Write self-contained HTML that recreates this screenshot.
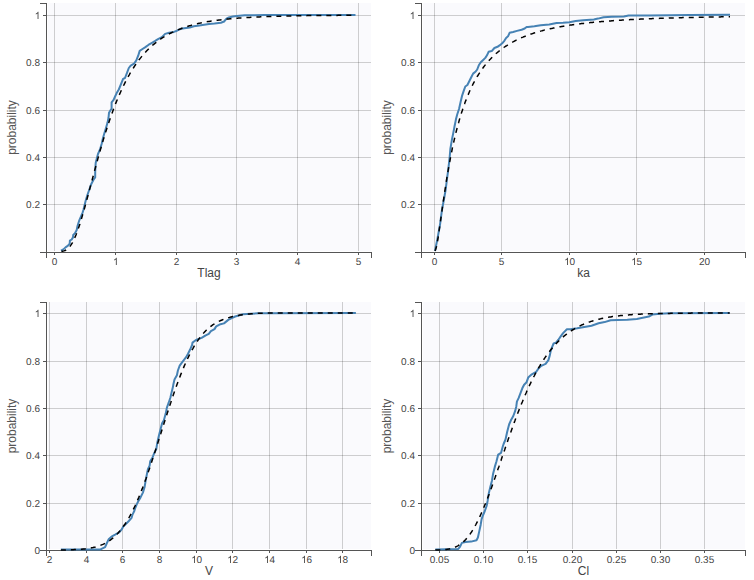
<!DOCTYPE html>
<html><head><meta charset="utf-8"><style>
html,body{margin:0;padding:0;background:#fff;width:754px;height:580px;overflow:hidden}
svg text{font-family:"Liberation Sans",sans-serif}
</style></head><body>
<svg width="754" height="580" viewBox="0 0 754 580" style="position:absolute;left:0;top:0">
<g><rect x="48" y="3" width="323" height="248" fill="#fafafd"/><path d="M54.5,3V251M115.5,3V251M176.5,3V251M236.5,3V251M297.5,3V251M358.5,3V251" stroke="#000" stroke-opacity="0.18" stroke-width="1" fill="none" shape-rendering="crispEdges"/><path d="M47,15.5H371M47,62.5H371M47,110.5H371M47,157.5H371M47,204.5H371" stroke="#000" stroke-opacity="0.18" stroke-width="1" fill="none" shape-rendering="crispEdges"/><path d="M40,3.5H46.5V252.5H40M46.5,258V252.5H371.5V258M54.5,252V255M115.5,252V255M176.5,252V255M236.5,252V255M297.5,252V255M358.5,252V255M43,15.5H46M43,62.5H46M43,110.5H46M43,157.5H46M43,204.5H46" stroke="#555" stroke-width="1" fill="none" shape-rendering="crispEdges"/><path d="M61.0,250.7L63.4,249.4L65.5,247.4L68.0,245.7L69.7,243.7L69.9,240.6L71.7,239.5L73.0,237.4L73.2,235.0L75.0,233.3L76.7,230.0L77.5,226.0L79.3,220.3L82.4,213.1L83.4,210.0L85.6,201.0L87.3,195.4L89.6,188.7L91.2,184.2L93.5,179.7L95.2,177.5L95.2,171.9L95.7,162.9L96.8,158.4L98.0,154.0L100.0,149.5L101.7,143.8L102.8,138.7L104.3,133.5L105.9,128.3L107.4,123.1L108.5,118.0L109.0,112.8L110.5,110.2L111.6,108.6L111.6,102.4L113.6,99.8L115.2,96.2L116.7,93.1L118.8,89.5L121.2,83.6L123.1,78.9L125.0,78.0L126.9,73.2L128.8,68.0L130.7,65.6L134.0,63.7L136.3,60.4L138.2,55.7L139.7,50.9L142.5,49.0L145.4,47.1L148.7,44.7L152.0,42.8L154.8,41.2L158.0,39.2L161.9,37.1L165.1,33.9L169.1,32.8L173.9,31.9L177.0,30.7L180.2,29.1L184.2,28.3L189.8,27.5L193.8,26.3L199.3,25.5L204.1,24.7L209.0,23.9L214.5,23.5L220.9,22.7L224.1,21.5L226.5,18.7L228.9,17.4L232.8,16.6L236.8,16.0L244.8,15.2L265.0,15.1L355.5,15.0" fill="none" stroke="#4682b4" stroke-width="2" stroke-linejoin="round"/><path d="M61.4,251.3L62.6,251.2L63.9,250.9L65.1,250.5L66.3,249.9L67.6,249.0L68.8,247.9L70.0,246.4L71.2,244.6L72.5,242.6L73.7,240.2L74.9,237.4L76.2,234.5L77.4,231.2L78.6,227.7L79.9,224.0L81.1,220.0L82.3,215.9L83.5,211.7L84.8,207.3L86.0,202.8L87.2,198.3L88.5,193.7L89.7,189.1L90.9,184.4L92.2,179.8L93.4,175.2L94.6,170.6L95.9,166.0L97.1,161.5L98.3,157.1L99.5,152.7L100.8,148.4L102.0,144.2L103.2,140.0L104.5,136.0L105.7,132.0L106.9,128.2L108.2,124.4L109.4,120.7L110.6,117.2L111.9,113.7L113.1,110.3L114.3,107.1L115.5,103.9L116.8,100.8L118.0,97.8L119.2,95.0L120.5,92.2L121.7,89.5L122.9,86.9L124.2,84.3L125.4,81.9L126.6,79.5L127.8,77.3L129.1,75.1L130.3,72.9L131.5,70.9L132.8,68.9L134.0,67.0L135.2,65.2L136.5,63.4L137.7,61.7L138.9,60.0L140.2,58.4L141.4,56.9L142.6,55.4L143.8,54.0L145.1,52.6L146.3,51.3L147.5,50.0L148.8,48.8L150.0,47.6L151.2,46.5L152.5,45.4L153.7,44.3L154.9,43.3L156.2,42.3L157.4,41.4L158.6,40.5L159.8,39.6L161.1,38.7L162.3,37.9L163.5,37.1L164.8,36.4L166.0,35.6L167.2,34.9L168.5,34.3L169.7,33.6L170.9,33.0L172.1,32.4L173.4,31.8L174.6,31.2L175.8,30.7L177.1,30.1L178.3,29.6L179.5,29.2L180.8,28.7L182.0,28.2L183.2,27.8L184.5,27.4L185.7,27.0L186.9,26.6L188.1,26.2L189.4,25.8L190.6,25.5L191.8,25.1L193.1,24.8L194.3,24.5L195.5,24.2L196.8,23.9L198.0,23.6L199.2,23.3L200.5,23.1L201.7,22.8L202.9,22.6L204.1,22.3L205.4,22.1L206.6,21.9L207.8,21.6L209.1,21.4L210.3,21.2L211.5,21.0L212.8,20.9L214.0,20.7L215.2,20.5L216.4,20.3L217.7,20.2L218.9,20.0L220.1,19.9L221.4,19.7L222.6,19.6L223.8,19.4L225.1,19.3L226.3,19.2L227.5,19.0L228.8,18.9L230.0,18.8L231.2,18.7L232.4,18.6L233.7,18.5L234.9,18.4L236.1,18.3L237.4,18.2L238.6,18.1L239.8,18.0L241.1,17.9L242.3,17.8L243.5,17.7L244.8,17.6L246.0,17.6L247.2,17.5L248.4,17.4L249.7,17.4L250.9,17.3L252.1,17.2L253.4,17.2L254.6,17.1L255.8,17.0L257.1,17.0L258.3,16.9L259.5,16.9L260.7,16.8L262.0,16.8L263.2,16.7L264.4,16.7L265.7,16.6L266.9,16.6L268.1,16.5L269.4,16.5L270.6,16.5L271.8,16.4L273.1,16.4L274.3,16.3L275.5,16.3L276.7,16.3L278.0,16.2L279.2,16.2L280.4,16.2L281.7,16.1L282.9,16.1L284.1,16.1L285.4,16.0L286.6,16.0L287.8,16.0L289.1,16.0L290.3,15.9L291.5,15.9L292.7,15.9L294.0,15.9L295.2,15.8L296.4,15.8L297.7,15.8L298.9,15.8L300.1,15.8L301.4,15.7L302.6,15.7L303.8,15.7L305.0,15.7L306.3,15.7L307.5,15.6L308.7,15.6L310.0,15.6L311.2,15.6L312.4,15.6L313.7,15.6L314.9,15.6L316.1,15.5L317.4,15.5L318.6,15.5L319.8,15.5L321.0,15.5L322.3,15.5L323.5,15.5L324.7,15.5L326.0,15.4L327.2,15.4L328.4,15.4L329.7,15.4L330.9,15.4L332.1,15.4L333.4,15.4L334.6,15.4L335.8,15.4L337.0,15.4L338.3,15.3L339.5,15.3L340.7,15.3L342.0,15.3L343.2,15.3L344.4,15.3L345.7,15.3L346.9,15.3L348.1,15.3L349.3,15.3L350.6,15.3L351.8,15.3L353.0,15.3L354.3,15.3L355.5,15.2" fill="none" stroke="#000" stroke-width="1.5" stroke-dasharray="5,5"/><g font-size="10" fill="#444" style="text-rendering:geometricPrecision"><text x="51.7192" y="265">0</text><path transform="translate(113.0192,265) scale(0.004883,-0.004883)" d="M763 0H583V1147C540 1106 483 1064 413 1023C342 982 279 951 223 930V1104C324 1151 412 1209 487 1276C562 1343 615 1409 646 1472H763Z"/><text x="173.7192" y="265">2</text><text x="233.7192" y="265">3</text><text x="294.7192" y="265">4</text><text x="355.7192" y="265">5</text><path transform="translate(34.7385,19) scale(0.004883,-0.004883)" d="M763 0H583V1147C540 1106 483 1064 413 1023C342 982 279 951 223 930V1104C324 1151 412 1209 487 1276C562 1343 615 1409 646 1472H763Z"/><text x="26.0986 31.6602 34.4385" y="66">0.8</text><text x="26.0986 31.6602 34.4385" y="114">0.6</text><text x="26.0986 31.6602 34.4385" y="161">0.4</text><text x="26.0986 31.6602 34.4385" y="208">0.2</text></g><text x="209.0" y="277" text-anchor="middle" font-size="12" fill="#444">Tlag</text><text transform="translate(15.5,127.5) rotate(-90)" text-anchor="middle" font-size="12" fill="#555">probability</text></g>
<g><rect x="423" y="3" width="322" height="248" fill="#fafafd"/><path d="M434.5,3V251M501.5,3V251M569.5,3V251M636.5,3V251M704.5,3V251" stroke="#000" stroke-opacity="0.18" stroke-width="1" fill="none" shape-rendering="crispEdges"/><path d="M422,15.5H745M422,62.5H745M422,110.5H745M422,157.5H745M422,204.5H745" stroke="#000" stroke-opacity="0.18" stroke-width="1" fill="none" shape-rendering="crispEdges"/><path d="M415,3.5H421.5V252.5H415M421.5,258V252.5H745.5V258M434.5,252V255M501.5,252V255M569.5,252V255M636.5,252V255M704.5,252V255M418,15.5H421M418,62.5H421M418,110.5H421M418,157.5H421M418,204.5H421" stroke="#555" stroke-width="1" fill="none" shape-rendering="crispEdges"/><path d="M435.0,251.0L437.6,238.0L440.0,224.8L441.9,210.3L443.7,200.7L445.6,190.0L447.0,178.9L448.3,169.3L449.7,156.9L450.4,148.6L451.8,140.3L453.2,133.4L454.5,126.5L455.9,119.6L457.2,114.5L459.1,108.7L460.7,101.5L462.2,95.3L463.8,90.7L465.3,86.5L467.4,85.0L469.5,80.8L471.5,76.7L473.1,73.6L475.7,71.5L477.2,69.5L478.8,65.3L480.8,62.2L482.9,60.2L485.3,57.9L487.0,55.3L488.6,51.8L491.7,51.1L494.4,48.0L497.5,46.8L499.9,45.2L502.2,43.3L504.5,40.6L506.1,37.9L508.0,36.3L509.6,32.8L513.1,32.0L517.0,30.9L521.6,29.7L524.7,28.5L526.6,27.0L528.0,26.9L534.4,26.3L540.7,25.3L549.2,24.5L556.6,23.1L563.0,22.8L569.4,22.3L575.7,21.0L583.2,20.2L593.8,19.4L598.0,18.6L603.6,17.3L611.9,16.7L623.9,16.4L628.6,15.5L647.7,15.5L671.6,15.2L690.0,15.0L730.0,14.8" fill="none" stroke="#4682b4" stroke-width="2" stroke-linejoin="round"/><path d="M435.0,250.9L435.7,249.3L436.5,246.5L437.2,242.8L438.0,238.5L438.7,233.7L439.4,228.6L440.2,223.4L440.9,218.2L441.7,212.9L442.4,207.6L443.1,202.4L443.9,197.4L444.6,192.4L445.4,187.6L446.1,182.8L446.8,178.3L447.6,173.8L448.3,169.5L449.0,165.4L449.8,161.4L450.5,157.5L451.3,153.7L452.0,150.1L452.7,146.5L453.5,143.2L454.2,139.9L455.0,136.7L455.7,133.6L456.4,130.7L457.2,127.8L457.9,125.0L458.7,122.4L459.4,119.8L460.1,117.3L460.9,114.8L461.6,112.5L462.4,110.2L463.1,108.0L463.8,105.9L464.6,103.8L465.3,101.8L466.1,99.9L466.8,98.0L467.5,96.1L468.3,94.4L469.0,92.7L469.7,91.0L470.5,89.4L471.2,87.8L472.0,86.3L472.7,84.8L473.4,83.3L474.2,81.9L474.9,80.6L475.7,79.3L476.4,78.0L477.1,76.7L477.9,75.5L478.6,74.3L479.4,73.2L480.1,72.0L480.8,70.9L481.6,69.9L482.3,68.8L483.1,67.8L483.8,66.8L484.5,65.9L485.3,64.9L486.0,64.0L486.8,63.1L487.5,62.3L488.2,61.4L489.0,60.6L489.7,59.8L490.5,59.0L491.2,58.2L491.9,57.5L492.7,56.7L493.4,56.0L494.1,55.3L494.9,54.6L495.6,54.0L496.4,53.3L497.1,52.7L497.8,52.1L498.6,51.5L499.3,50.9L500.1,50.3L500.8,49.7L501.5,49.1L502.3,48.6L503.0,48.1L503.8,47.5L504.5,47.0L505.2,46.5L506.0,46.0L506.7,45.6L507.5,45.1L508.2,44.6L508.9,44.2L509.7,43.7L510.4,43.3L511.2,42.9L511.9,42.5L512.6,42.1L513.4,41.7L514.1,41.3L514.8,40.9L515.6,40.5L516.3,40.1L517.1,39.8L517.8,39.4L518.5,39.1L519.3,38.7L520.0,38.4L520.8,38.1L521.5,37.7L522.2,37.4L523.0,37.1L523.7,36.8L524.5,36.5L525.2,36.2L525.9,35.9L526.7,35.6L527.4,35.4L528.2,35.1L528.9,34.8L529.6,34.6L530.4,34.3L531.1,34.0L531.9,33.8L532.6,33.6L533.3,33.3L534.1,33.1L534.8,32.8L535.6,32.6L536.3,32.4L537.0,32.2L537.8,31.9L538.5,31.7L539.2,31.5L540.0,31.3L540.7,31.1L541.5,30.9L542.2,30.7L542.9,30.5L543.7,30.3L544.4,30.1L545.2,30.0L545.9,29.8L546.6,29.6L547.4,29.4L548.1,29.2L548.9,29.1L549.6,28.9L550.3,28.7L551.1,28.6L551.8,28.4L552.6,28.3L553.3,28.1L554.0,28.0L554.8,27.8L555.5,27.7L556.3,27.5L557.0,27.4L557.7,27.2L558.5,27.1L559.2,26.9L559.9,26.8L560.7,26.7L561.4,26.5L562.2,26.4L562.9,26.3L563.6,26.2L564.4,26.0L565.1,25.9L565.9,25.8L566.6,25.7L567.3,25.6L568.1,25.5L568.8,25.3L569.6,25.2L570.3,25.1L571.0,25.0L571.8,24.9L572.5,24.8L573.3,24.7L574.0,24.6L574.7,24.5L575.5,24.4L576.2,24.3L577.0,24.2L577.7,24.1L578.4,24.0L579.2,23.9L579.9,23.8L580.7,23.7L581.4,23.6L582.1,23.5L582.9,23.5L583.6,23.4L584.3,23.3L585.1,23.2L585.8,23.1L586.6,23.0L587.3,23.0L588.0,22.9L588.8,22.8L589.5,22.7L590.3,22.6L591.0,22.6L591.7,22.5L592.5,22.4L593.2,22.3L594.0,22.3L594.7,22.2L595.4,22.1L596.2,22.1L596.9,22.0L597.7,21.9L598.4,21.9L599.1,21.8L599.9,21.7L600.6,21.7L601.4,21.6L602.1,21.5L602.8,21.5L603.6,21.4L604.3,21.4L605.1,21.3L605.8,21.2L606.5,21.2L607.3,21.1L608.0,21.1L608.7,21.0L609.5,21.0L610.2,20.9L611.0,20.9L611.7,20.8L612.4,20.7L613.2,20.7L613.9,20.6L614.7,20.6L615.4,20.5L616.1,20.5L616.9,20.4L617.6,20.4L618.4,20.3L619.1,20.3L619.8,20.3L620.6,20.2L621.3,20.2L622.1,20.1L622.8,20.1L623.5,20.0L624.3,20.0L625.0,19.9L625.8,19.9L626.5,19.9L627.2,19.8L628.0,19.8L628.7,19.7L629.4,19.7L630.2,19.6L630.9,19.6L631.7,19.6L632.4,19.5L633.1,19.5L633.9,19.5L634.6,19.4L635.4,19.4L636.1,19.3L636.8,19.3L637.6,19.3L638.3,19.2L639.1,19.2L639.8,19.2L640.5,19.1L641.3,19.1L642.0,19.1L642.8,19.0L643.5,19.0L644.2,19.0L645.0,18.9L645.7,18.9L646.5,18.9L647.2,18.8L647.9,18.8L648.7,18.8L649.4,18.7L650.2,18.7L650.9,18.7L651.6,18.7L652.4,18.6L653.1,18.6L653.8,18.6L654.6,18.5L655.3,18.5L656.1,18.5L656.8,18.5L657.5,18.4L658.3,18.4L659.0,18.4L659.8,18.3L660.5,18.3L661.2,18.3L662.0,18.3L662.7,18.2L663.5,18.2L664.2,18.2L664.9,18.2L665.7,18.1L666.4,18.1L667.2,18.1L667.9,18.1L668.6,18.1L669.4,18.0L670.1,18.0L670.9,18.0L671.6,18.0L672.3,17.9L673.1,17.9L673.8,17.9L674.5,17.9L675.3,17.9L676.0,17.8L676.8,17.8L677.5,17.8L678.2,17.8L679.0,17.7L679.7,17.7L680.5,17.7L681.2,17.7L681.9,17.7L682.7,17.6L683.4,17.6L684.2,17.6L684.9,17.6L685.6,17.6L686.4,17.6L687.1,17.5L687.9,17.5L688.6,17.5L689.3,17.5L690.1,17.5L690.8,17.4L691.6,17.4L692.3,17.4L693.0,17.4L693.8,17.4L694.5,17.4L695.3,17.3L696.0,17.3L696.7,17.3L697.5,17.3L698.2,17.3L698.9,17.3L699.7,17.2L700.4,17.2L701.2,17.2L701.9,17.2L702.6,17.2L703.4,17.2L704.1,17.2L704.9,17.1L705.6,17.1L706.3,17.1L707.1,17.1L707.8,17.1L708.6,17.1L709.3,17.1L710.0,17.0L710.8,17.0L711.5,17.0L712.3,17.0L713.0,17.0L713.7,17.0L714.5,17.0L715.2,16.9L716.0,16.9L716.7,16.9L717.4,16.9L718.2,16.9L718.9,16.9L719.6,16.9L720.4,16.9L721.1,16.8L721.9,16.8L722.6,16.8L723.3,16.8L724.1,16.8L724.8,16.8L725.6,16.8L726.3,16.8L727.0,16.7L727.8,16.7L728.5,16.7L729.3,16.7L730.0,16.7" fill="none" stroke="#000" stroke-width="1.5" stroke-dasharray="5,5"/><g font-size="10" fill="#444" style="text-rendering:geometricPrecision"><text x="431.7192" y="265">0</text><text x="498.7192" y="265">5</text><text x="569.5000" y="265">0</text><path transform="translate(564.2385,265) scale(0.004883,-0.004883)" d="M763 0H583V1147C540 1106 483 1064 413 1023C342 982 279 951 223 930V1104C324 1151 412 1209 487 1276C562 1343 615 1409 646 1472H763Z"/><text x="636.5000" y="265">5</text><path transform="translate(631.2385,265) scale(0.004883,-0.004883)" d="M763 0H583V1147C540 1106 483 1064 413 1023C342 982 279 951 223 930V1104C324 1151 412 1209 487 1276C562 1343 615 1409 646 1472H763Z"/><text x="698.9385 704.5000" y="265">20</text><path transform="translate(409.7385,19) scale(0.004883,-0.004883)" d="M763 0H583V1147C540 1106 483 1064 413 1023C342 982 279 951 223 930V1104C324 1151 412 1209 487 1276C562 1343 615 1409 646 1472H763Z"/><text x="401.0986 406.6602 409.4385" y="66">0.8</text><text x="401.0986 406.6602 409.4385" y="114">0.6</text><text x="401.0986 406.6602 409.4385" y="161">0.4</text><text x="401.0986 406.6602 409.4385" y="208">0.2</text></g><text x="583.5" y="277" text-anchor="middle" font-size="12" fill="#444">ka</text><text transform="translate(390.5,127.5) rotate(-90)" text-anchor="middle" font-size="12" fill="#555">probability</text></g>
<g><rect x="48" y="302" width="323" height="247" fill="#fafafd"/><path d="M49.5,302V549M86.5,302V549M122.5,302V549M159.5,302V549M196.5,302V549M232.5,302V549M269.5,302V549M306.5,302V549M342.5,302V549" stroke="#000" stroke-opacity="0.18" stroke-width="1" fill="none" shape-rendering="crispEdges"/><path d="M47,313.5H371M47,361.5H371M47,408.5H371M47,455.5H371M47,503.5H371" stroke="#000" stroke-opacity="0.18" stroke-width="1" fill="none" shape-rendering="crispEdges"/><path d="M40,302.5H46.5V550.5H40M46.5,556V550.5H371.5V556M49.5,550V553M86.5,550V553M122.5,550V553M159.5,550V553M196.5,550V553M232.5,550V553M269.5,550V553M306.5,550V553M342.5,550V553M43,313.5H46M43,361.5H46M43,408.5H46M43,455.5H46M43,503.5H46" stroke="#555" stroke-width="1" fill="none" shape-rendering="crispEdges"/><path d="M60.9,549.6L95.0,549.4L100.5,549.4L105.1,547.1L106.9,543.0L108.7,539.3L111.5,536.6L115.1,534.7L119.2,532.4L121.5,529.7L123.3,526.5L126.1,523.8L128.8,521.0L131.6,517.8L132.5,514.6L134.3,511.0L135.2,508.2L136.6,504.6L138.0,501.8L140.1,498.2L142.9,492.6L144.6,487.0L145.7,480.3L146.8,474.7L147.9,469.1L149.6,465.8L150.2,461.3L152.4,457.9L154.1,453.4L156.3,449.0L157.4,442.2L159.0,435.3L162.1,423.3L163.9,420.2L165.7,413.6L166.9,407.6L168.7,402.7L170.5,397.3L171.7,391.9L172.9,387.1L173.4,384.3L174.5,379.5L176.9,375.3L177.9,370.5L179.7,365.7L181.7,362.9L183.8,360.2L185.9,357.4L187.9,354.0L190.0,349.8L192.1,345.0L192.5,342.6L195.3,340.5L197.9,339.2L201.6,337.9L205.7,335.3L208.8,333.8L210.9,331.2L214.5,329.1L216.2,326.4L220.5,324.2L224.0,323.4L228.3,319.9L231.7,318.2L235.2,316.5L239.5,315.2L243.0,314.2L250.9,313.7L258.9,313.3L266.8,313.2L355.9,313.1" fill="none" stroke="#4682b4" stroke-width="2" stroke-linejoin="round"/><path d="M60.9,549.9L62.1,549.9L63.4,549.9L64.6,549.9L65.8,549.9L67.1,549.8L68.3,549.8L69.5,549.8L70.8,549.7L72.0,549.7L73.2,549.7L74.5,549.6L75.7,549.6L76.9,549.5L78.2,549.4L79.4,549.3L80.6,549.3L81.9,549.2L83.1,549.0L84.4,548.9L85.6,548.8L86.8,548.6L88.1,548.5L89.3,548.3L90.5,548.1L91.8,547.8L93.0,547.6L94.2,547.3L95.5,547.0L96.7,546.6L97.9,546.2L99.2,545.8L100.4,545.4L101.6,544.9L102.9,544.4L104.1,543.8L105.3,543.2L106.6,542.5L107.8,541.7L109.0,540.9L110.3,540.1L111.5,539.2L112.7,538.2L114.0,537.1L115.2,536.0L116.4,534.8L117.7,533.5L118.9,532.1L120.1,530.7L121.4,529.1L122.6,527.5L123.8,525.8L125.1,524.0L126.3,522.1L127.6,520.1L128.8,518.0L130.0,515.8L131.3,513.5L132.5,511.1L133.7,508.6L135.0,506.0L136.2,503.3L137.4,500.5L138.7,497.6L139.9,494.6L141.1,491.5L142.4,488.4L143.6,485.1L144.8,481.8L146.1,478.4L147.3,474.9L148.5,471.3L149.8,467.7L151.0,464.0L152.2,460.3L153.5,456.6L154.7,452.7L155.9,448.9L157.2,445.0L158.4,441.1L159.6,437.2L160.9,433.3L162.1,429.4L163.3,425.5L164.6,421.6L165.8,417.7L167.1,413.8L168.3,410.0L169.5,406.2L170.8,402.5L172.0,398.8L173.2,395.2L174.5,391.6L175.7,388.1L176.9,384.7L178.2,381.4L179.4,378.1L180.6,374.9L181.9,371.8L183.1,368.8L184.3,365.9L185.6,363.1L186.8,360.4L188.0,357.8L189.3,355.2L190.5,352.8L191.7,350.5L193.0,348.3L194.2,346.1L195.4,344.1L196.7,342.2L197.9,340.4L199.1,338.6L200.4,337.0L201.6,335.4L202.8,333.9L204.1,332.6L205.3,331.3L206.5,330.0L207.8,328.9L209.0,327.8L210.3,326.8L211.5,325.8L212.7,324.9L214.0,324.1L215.2,323.4L216.4,322.6L217.7,322.0L218.9,321.3L220.1,320.8L221.4,320.2L222.6,319.7L223.8,319.2L225.1,318.8L226.3,318.4L227.5,318.0L228.8,317.6L230.0,317.3L231.2,316.9L232.5,316.6L233.7,316.3L234.9,316.1L236.2,315.8L237.4,315.6L238.6,315.4L239.9,315.1L241.1,314.9L242.3,314.7L243.6,314.6L244.8,314.4L246.0,314.3L247.3,314.1L248.5,314.0L249.7,313.9L251.0,313.8L252.2,313.7L253.5,313.6L254.7,313.5L255.9,313.4L257.2,313.4L258.4,313.3L259.6,313.3L260.9,313.2L262.1,313.2L263.3,313.2L264.6,313.1L265.8,313.1L267.0,313.1L268.3,313.1L269.5,313.1L270.7,313.0L272.0,313.0L273.2,313.0L274.4,313.0L275.7,313.0L276.9,313.0L278.1,313.0L279.4,313.0L280.6,313.0L281.8,313.0L283.1,313.0L284.3,313.0L285.5,313.0L286.8,313.0L288.0,313.0L289.2,313.0L290.5,313.0L291.7,313.0L293.0,313.0L294.2,313.0L295.4,313.0L296.7,313.0L297.9,313.0L299.1,313.0L300.4,313.0L301.6,313.0L302.8,313.0L304.1,313.0L305.3,313.0L306.5,313.0L307.8,313.0L309.0,313.0L310.2,313.0L311.5,313.0L312.7,313.0L313.9,313.0L315.2,313.0L316.4,313.0L317.6,313.0L318.9,313.0L320.1,313.0L321.3,313.0L322.6,313.0L323.8,313.0L325.0,313.0L326.3,313.0L327.5,313.0L328.7,313.0L330.0,313.0L331.2,313.0L332.4,313.0L333.7,313.0L334.9,313.0L336.2,313.0L337.4,313.0L338.6,313.0L339.9,313.0L341.1,313.0L342.3,313.0L343.6,313.0L344.8,313.0L346.0,313.0L347.3,313.0L348.5,313.0L349.7,313.0L351.0,313.0L352.2,313.0L353.4,313.0L354.7,313.0L355.9,313.0" fill="none" stroke="#000" stroke-width="1.5" stroke-dasharray="5,5"/><g font-size="10" fill="#444" style="text-rendering:geometricPrecision"><text x="46.7192" y="563">2</text><text x="83.7192" y="563">4</text><text x="119.7192" y="563">6</text><text x="156.7192" y="563">8</text><text x="196.5000" y="563">0</text><path transform="translate(191.2385,563) scale(0.004883,-0.004883)" d="M763 0H583V1147C540 1106 483 1064 413 1023C342 982 279 951 223 930V1104C324 1151 412 1209 487 1276C562 1343 615 1409 646 1472H763Z"/><text x="232.5000" y="563">2</text><path transform="translate(227.2385,563) scale(0.004883,-0.004883)" d="M763 0H583V1147C540 1106 483 1064 413 1023C342 982 279 951 223 930V1104C324 1151 412 1209 487 1276C562 1343 615 1409 646 1472H763Z"/><text x="269.5000" y="563">4</text><path transform="translate(264.2385,563) scale(0.004883,-0.004883)" d="M763 0H583V1147C540 1106 483 1064 413 1023C342 982 279 951 223 930V1104C324 1151 412 1209 487 1276C562 1343 615 1409 646 1472H763Z"/><text x="306.5000" y="563">6</text><path transform="translate(301.2385,563) scale(0.004883,-0.004883)" d="M763 0H583V1147C540 1106 483 1064 413 1023C342 982 279 951 223 930V1104C324 1151 412 1209 487 1276C562 1343 615 1409 646 1472H763Z"/><text x="342.5000" y="563">8</text><path transform="translate(337.2385,563) scale(0.004883,-0.004883)" d="M763 0H583V1147C540 1106 483 1064 413 1023C342 982 279 951 223 930V1104C324 1151 412 1209 487 1276C562 1343 615 1409 646 1472H763Z"/><text x="34.4385" y="554">0</text><path transform="translate(34.7385,317) scale(0.004883,-0.004883)" d="M763 0H583V1147C540 1106 483 1064 413 1023C342 982 279 951 223 930V1104C324 1151 412 1209 487 1276C562 1343 615 1409 646 1472H763Z"/><text x="26.0986 31.6602 34.4385" y="365">0.8</text><text x="26.0986 31.6602 34.4385" y="412">0.6</text><text x="26.0986 31.6602 34.4385" y="459">0.4</text><text x="26.0986 31.6602 34.4385" y="507">0.2</text></g><text x="209.0" y="575" text-anchor="middle" font-size="12" fill="#444">V</text><text transform="translate(15.5,426.0) rotate(-90)" text-anchor="middle" font-size="12" fill="#555">probability</text></g>
<g><rect x="423" y="302" width="322" height="247" fill="#fafafd"/><path d="M439.5,302V549M483.5,302V549M527.5,302V549M572.5,302V549M616.5,302V549M660.5,302V549M704.5,302V549" stroke="#000" stroke-opacity="0.18" stroke-width="1" fill="none" shape-rendering="crispEdges"/><path d="M422,313.5H745M422,361.5H745M422,408.5H745M422,455.5H745M422,503.5H745" stroke="#000" stroke-opacity="0.18" stroke-width="1" fill="none" shape-rendering="crispEdges"/><path d="M415,302.5H421.5V550.5H415M421.5,556V550.5H745.5V556M439.5,550V553M483.5,550V553M527.5,550V553M572.5,550V553M616.5,550V553M660.5,550V553M704.5,550V553M418,313.5H421M418,361.5H421M418,408.5H421M418,455.5H421M418,503.5H421" stroke="#555" stroke-width="1" fill="none" shape-rendering="crispEdges"/><path d="M435.3,549.6L458.3,548.9L460.1,546.6L461.9,542.9L465.6,542.0L471.1,541.6L476.5,540.2L477.9,537.5L479.3,531.1L480.7,524.7L481.6,519.2L482.9,515.5L484.8,511.0L486.6,506.0L487.6,501.0L488.7,493.8L490.3,487.1L492.0,480.4L493.1,473.7L494.8,466.9L496.5,461.3L498.2,454.6L501.0,452.9L502.7,446.7L503.6,444.0L505.5,439.5L507.2,431.7L509.1,424.5L510.9,420.3L513.3,416.0L515.1,411.2L516.3,406.4L516.9,401.6L518.7,397.9L520.5,393.1L522.3,388.3L524.1,384.7L526.6,382.2L528.2,377.6L531.8,374.3L536.1,372.0L538.4,368.6L541.3,365.8L545.6,363.9L548.4,360.1L549.8,355.4L550.8,350.6L552.2,346.8L553.6,343.5L556.0,342.6L558.4,339.7L560.7,336.4L563.1,333.1L566.9,329.3L570.7,329.2L577.2,328.3L584.3,326.9L591.5,325.7L598.6,323.3L604.6,322.1L610.6,320.2L617.7,319.9L627.3,319.7L636.8,319.0L641.6,318.1L648.8,316.6L652.4,314.6L660.0,313.7L669.2,313.2L729.7,313.1" fill="none" stroke="#4682b4" stroke-width="2" stroke-linejoin="round"/><path d="M435.3,550.0L436.0,550.0L436.8,549.9L437.5,549.9L438.3,549.9L439.0,549.9L439.7,549.9L440.5,549.8L441.2,549.8L441.9,549.8L442.7,549.7L443.4,549.7L444.2,549.6L444.9,549.6L445.6,549.5L446.4,549.4L447.1,549.3L447.8,549.2L448.6,549.1L449.3,548.9L450.1,548.8L450.8,548.6L451.5,548.4L452.3,548.2L453.0,548.0L453.7,547.7L454.5,547.4L455.2,547.1L456.0,546.8L456.7,546.4L457.4,546.1L458.2,545.7L458.9,545.2L459.6,544.7L460.4,544.2L461.1,543.7L461.9,543.1L462.6,542.5L463.3,541.8L464.1,541.2L464.8,540.4L465.6,539.7L466.3,538.8L467.0,538.0L467.8,537.1L468.5,536.2L469.2,535.2L470.0,534.2L470.7,533.1L471.5,532.0L472.2,530.9L472.9,529.7L473.7,528.5L474.4,527.2L475.1,525.9L475.9,524.5L476.6,523.2L477.4,521.7L478.1,520.2L478.8,518.7L479.6,517.2L480.3,515.6L481.0,514.0L481.8,512.3L482.5,510.6L483.3,508.9L484.0,507.1L484.7,505.3L485.5,503.5L486.2,501.6L486.9,499.8L487.7,497.9L488.4,495.9L489.2,494.0L489.9,492.0L490.6,490.0L491.4,488.0L492.1,485.9L492.9,483.9L493.6,481.8L494.3,479.7L495.1,477.6L495.8,475.5L496.5,473.4L497.3,471.2L498.0,469.1L498.8,467.0L499.5,464.8L500.2,462.7L501.0,460.5L501.7,458.3L502.4,456.2L503.2,454.0L503.9,451.9L504.7,449.7L505.4,447.6L506.1,445.4L506.9,443.3L507.6,441.2L508.3,439.1L509.1,437.0L509.8,434.9L510.6,432.8L511.3,430.7L512.0,428.7L512.8,426.6L513.5,424.6L514.2,422.6L515.0,420.6L515.7,418.6L516.5,416.7L517.2,414.7L517.9,412.8L518.7,410.9L519.4,409.0L520.2,407.1L520.9,405.3L521.6,403.5L522.4,401.7L523.1,399.9L523.8,398.1L524.6,396.4L525.3,394.7L526.1,393.0L526.8,391.3L527.5,389.7L528.3,388.1L529.0,386.5L529.7,384.9L530.5,383.4L531.2,381.8L532.0,380.3L532.7,378.9L533.4,377.4L534.2,376.0L534.9,374.6L535.6,373.2L536.4,371.8L537.1,370.5L537.9,369.2L538.6,367.9L539.3,366.6L540.1,365.4L540.8,364.2L541.5,363.0L542.3,361.8L543.0,360.6L543.8,359.5L544.5,358.4L545.2,357.3L546.0,356.2L546.7,355.2L547.5,354.2L548.2,353.2L548.9,352.2L549.7,351.2L550.4,350.3L551.1,349.4L551.9,348.5L552.6,347.6L553.4,346.7L554.1,345.9L554.8,345.0L555.6,344.2L556.3,343.4L557.0,342.7L557.8,341.9L558.5,341.2L559.3,340.4L560.0,339.7L560.7,339.0L561.5,338.4L562.2,337.7L562.9,337.1L563.7,336.4L564.4,335.8L565.2,335.2L565.9,334.6L566.6,334.1L567.4,333.5L568.1,333.0L568.8,332.4L569.6,331.9L570.3,331.4L571.1,330.9L571.8,330.4L572.5,330.0L573.3,329.5L574.0,329.1L574.8,328.6L575.5,328.2L576.2,327.8L577.0,327.4L577.7,327.0L578.4,326.6L579.2,326.2L579.9,325.9L580.7,325.5L581.4,325.2L582.1,324.8L582.9,324.5L583.6,324.2L584.3,323.9L585.1,323.6L585.8,323.3L586.6,323.0L587.3,322.7L588.0,322.5L588.8,322.2L589.5,321.9L590.2,321.7L591.0,321.4L591.7,321.2L592.5,321.0L593.2,320.7L593.9,320.5L594.7,320.3L595.4,320.1L596.2,319.9L596.9,319.7L597.6,319.5L598.4,319.3L599.1,319.2L599.8,319.0L600.6,318.8L601.3,318.6L602.1,318.5L602.8,318.3L603.5,318.2L604.3,318.0L605.0,317.9L605.7,317.7L606.5,317.6L607.2,317.5L608.0,317.3L608.7,317.2L609.4,317.1L610.2,317.0L610.9,316.9L611.6,316.7L612.4,316.6L613.1,316.5L613.9,316.4L614.6,316.3L615.3,316.2L616.1,316.1L616.8,316.0L617.5,316.0L618.3,315.9L619.0,315.8L619.8,315.7L620.5,315.6L621.2,315.6L622.0,315.5L622.7,315.4L623.5,315.3L624.2,315.3L624.9,315.2L625.7,315.1L626.4,315.1L627.1,315.0L627.9,315.0L628.6,314.9L629.4,314.8L630.1,314.8L630.8,314.7L631.6,314.7L632.3,314.6L633.0,314.6L633.8,314.5L634.5,314.5L635.3,314.5L636.0,314.4L636.7,314.4L637.5,314.3L638.2,314.3L638.9,314.2L639.7,314.2L640.4,314.2L641.2,314.1L641.9,314.1L642.6,314.1L643.4,314.0L644.1,314.0L644.8,314.0L645.6,314.0L646.3,313.9L647.1,313.9L647.8,313.9L648.5,313.8L649.3,313.8L650.0,313.8L650.8,313.8L651.5,313.7L652.2,313.7L653.0,313.7L653.7,313.7L654.4,313.7L655.2,313.6L655.9,313.6L656.7,313.6L657.4,313.6L658.1,313.6L658.9,313.6L659.6,313.5L660.3,313.5L661.1,313.5L661.8,313.5L662.6,313.5L663.3,313.5L664.0,313.4L664.8,313.4L665.5,313.4L666.2,313.4L667.0,313.4L667.7,313.4L668.5,313.4L669.2,313.4L669.9,313.4L670.7,313.3L671.4,313.3L672.1,313.3L672.9,313.3L673.6,313.3L674.4,313.3L675.1,313.3L675.8,313.3L676.6,313.3L677.3,313.3L678.1,313.3L678.8,313.2L679.5,313.2L680.3,313.2L681.0,313.2L681.7,313.2L682.5,313.2L683.2,313.2L684.0,313.2L684.7,313.2L685.4,313.2L686.2,313.2L686.9,313.2L687.6,313.2L688.4,313.2L689.1,313.2L689.9,313.2L690.6,313.2L691.3,313.1L692.1,313.1L692.8,313.1L693.5,313.1L694.3,313.1L695.0,313.1L695.8,313.1L696.5,313.1L697.2,313.1L698.0,313.1L698.7,313.1L699.4,313.1L700.2,313.1L700.9,313.1L701.7,313.1L702.4,313.1L703.1,313.1L703.9,313.1L704.6,313.1L705.4,313.1L706.1,313.1L706.8,313.1L707.6,313.1L708.3,313.1L709.0,313.1L709.8,313.1L710.5,313.1L711.3,313.1L712.0,313.1L712.7,313.1L713.5,313.1L714.2,313.1L714.9,313.1L715.7,313.1L716.4,313.1L717.2,313.1L717.9,313.1L718.6,313.0L719.4,313.0L720.1,313.0L720.8,313.0L721.6,313.0L722.3,313.0L723.1,313.0L723.8,313.0L724.5,313.0L725.3,313.0L726.0,313.0L726.7,313.0L727.5,313.0L728.2,313.0L729.0,313.0L729.7,313.0" fill="none" stroke="#000" stroke-width="1.5" stroke-dasharray="5,5"/><g font-size="10" fill="#444" style="text-rendering:geometricPrecision"><text x="429.7686 435.3301 438.1084 443.6699" y="563">0.05</text><text x="473.7686 479.3301 487.6699" y="563">0.0</text><path transform="translate(482.4084,563) scale(0.004883,-0.004883)" d="M763 0H583V1147C540 1106 483 1064 413 1023C342 982 279 951 223 930V1104C324 1151 412 1209 487 1276C562 1343 615 1409 646 1472H763Z"/><text x="517.7686 523.3301 531.6699" y="563">0.5</text><path transform="translate(526.4084,563) scale(0.004883,-0.004883)" d="M763 0H583V1147C540 1106 483 1064 413 1023C342 982 279 951 223 930V1104C324 1151 412 1209 487 1276C562 1343 615 1409 646 1472H763Z"/><text x="562.7686 568.3301 571.1084 576.6699" y="563">0.20</text><text x="606.7686 612.3301 615.1084 620.6699" y="563">0.25</text><text x="650.7686 656.3301 659.1084 664.6699" y="563">0.30</text><text x="694.7686 700.3301 703.1084 708.6699" y="563">0.35</text><text x="409.4385" y="554">0</text><path transform="translate(409.7385,317) scale(0.004883,-0.004883)" d="M763 0H583V1147C540 1106 483 1064 413 1023C342 982 279 951 223 930V1104C324 1151 412 1209 487 1276C562 1343 615 1409 646 1472H763Z"/><text x="401.0986 406.6602 409.4385" y="365">0.8</text><text x="401.0986 406.6602 409.4385" y="412">0.6</text><text x="401.0986 406.6602 409.4385" y="459">0.4</text><text x="401.0986 406.6602 409.4385" y="507">0.2</text></g><text x="583.5" y="575" text-anchor="middle" font-size="12" fill="#444">Cl</text><text transform="translate(390.5,426.0) rotate(-90)" text-anchor="middle" font-size="12" fill="#555">probability</text></g>
</svg>
</body></html>
